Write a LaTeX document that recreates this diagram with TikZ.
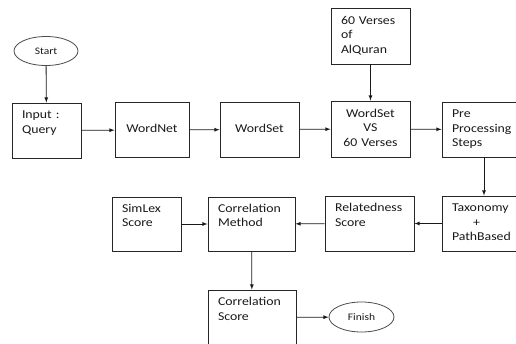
\documentclass[tikz,border=0pt]{standalone}
\usepackage{fontspec}
\setmainfont{Carlito}[FakeStretch=1.15]
\usetikzlibrary{shapes.geometric}

\begin{document}
\begin{tikzpicture}[
	x=1pt, y=-1pt, >=latex,
	block/.style={ draw=black!85, line width=0.9pt, inner xsep=10pt, inner ysep=0pt, minimum height=55pt, align=left, text=black!90, font=\fontsize{12}{14.5}\selectfont },
	terminal/.style={ ellipse, draw=black!70, line width=0.8pt, inner sep=0pt, text=black!90, font=\fontsize{10}{12}\selectfont },
	flow/.style={ ->, line width=0.8pt, black!90 }
]
\useasboundingbox (0,0) rectangle (516,343);
\clip (0,0) rectangle (516,343);

% top row
\node at (46,51) (start) [terminal,minimum width=64pt,minimum height=29pt] {Start};
\node at (46.5,130.5) (input) [block,text width=49pt] {\strut Input :\\\strut Query\\\strut};
\node at (152,130) (wordnet) [block,text width=54pt,align=center] {\strut\\\strut WordNet\\\strut};
\node at (259.5,129.5) (wordset) [block,text width=59pt,align=center] {\strut\\\strut WordSet\\\strut};
\node at (370.5,36) (verses) [block,text width=59pt,minimum height=56pt] {\strut 60 Verses\\\strut of\\\strut AlQuran};
\node at (370.5,129) (versus) [block,text width=59pt,align=center,minimum height=56pt] {\strut WordSet\\\strut VS\\\strut 60 Verses};
\node at (484,129.5) (prep) [block,text width=64pt] {\strut Pre\\\strut Processing\\\strut Steps};

% middle row
\node at (484,223.5) (taxo) [block,text width=64pt] {\strut Taxonomy\\\hspace*{21pt}\strut +\\\strut PathBased};
\node at (369.5,223.5) (related) [block,text width=69pt] {\strut Relatedness\\\strut Score\\\strut};
\node at (251.5,224) (method) [block,text width=67pt,minimum height=54pt] {\strut Correlation\\\strut Method\\\strut};
\node at (146.5,224) (simlex) [block,text width=49pt,minimum height=54pt] {\strut SimLex\\\strut Score\\\strut};

% bottom row
\node at (252,317.5) (corr) [block,text width=68pt] {\strut Correlation\\\strut Score\\\strut};
\node at (361.5,317) (finish) [terminal,minimum width=65pt,minimum height=30pt] {Finish};

\draw[flow] (start) -- (input);
\draw[flow] (input) -- (wordnet);
\draw[flow] (wordnet) -- (wordset);
\draw[flow] (wordset) -- (versus);
\draw[flow] (verses) -- (versus);
\draw[flow] (versus) -- (prep);
\draw[flow] (prep) -- (taxo);
\draw[flow] (taxo) -- (related);
\draw[flow] (related) -- (method);
\draw[flow] (simlex) -- (method);
\draw[flow] (method) -- (corr);
\draw[flow] (corr) -- (finish);

\end{tikzpicture}
\end{document}
